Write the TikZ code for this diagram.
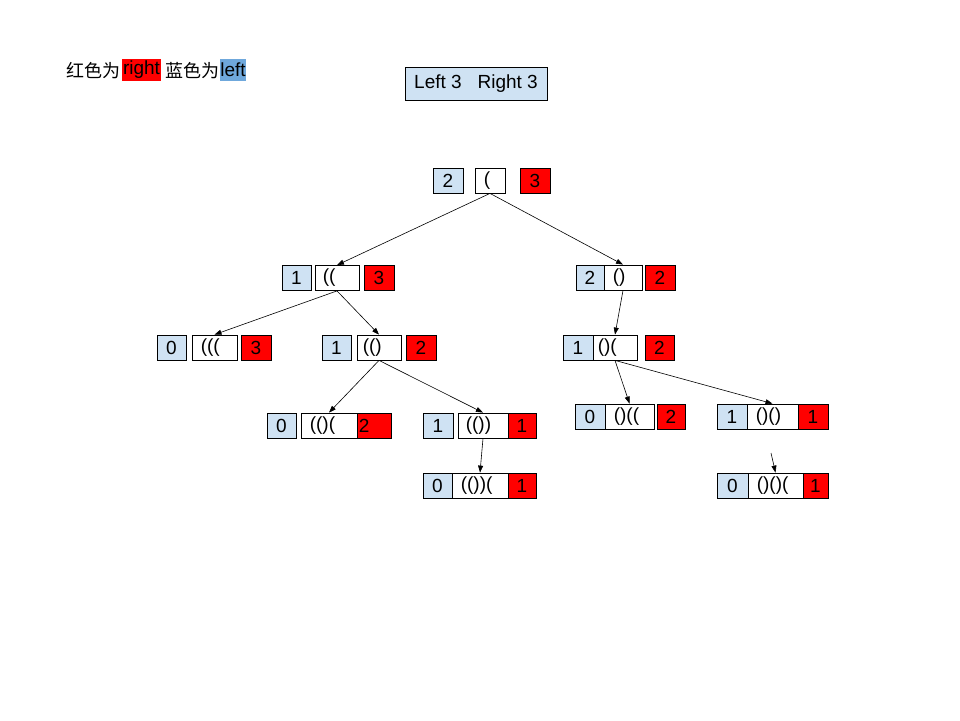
\documentclass[tikz,border=0pt]{standalone}
\usepackage{fontspec}
\setmainfont{Liberation Sans}
\newfontfamily\cjk{Noto Sans CJK SC}
\usetikzlibrary{arrows.meta}
\definecolor{lb}{HTML}{CFE2F3}
\definecolor{hb}{HTML}{6FA8DC}
\definecolor{rd}{HTML}{FF0000}
\begin{document}
\begin{tikzpicture}[x=1pt,y=-1pt,
  box/.style={draw=black, line width=0.8pt, minimum height=25pt, inner sep=0pt, font=\fontsize{19}{19}\selectfont},
  bb/.style={box, fill=lb, minimum width=#1},
  rb/.style={box, fill=rd, minimum width=#1},
  wb/.style={box, fill=white, minimum width=#1},
  tx/.style={anchor=west, inner sep=0pt, font=\fontsize{19}{19}\selectfont},
  arr/.style={-{Triangle[length=7pt,width=5pt]}, line width=0.6pt}]
\useasboundingbox (0,0) rectangle (960,720);

% header text
\node[anchor=west, inner sep=0pt, font=\fontsize{18}{18}\selectfont\cjk] (t1) at (66,71) {红色为};
\node[fill=rd, minimum width=39pt, minimum height=22pt, inner sep=0pt, font=\fontsize{19}{19}\selectfont] (t2) at (141.5,70) {right};
\node[inner sep=0pt, font=\fontsize{18}{18}\selectfont\cjk] (t3) at (192,71) {蓝色为};
\node[fill=hb, minimum width=24pt, minimum height=22pt, inner sep=0pt, font=\fontsize{19}{19}\selectfont] (t4) at (233,70) {left};

% legend
\node[draw=black, fill=lb, line width=0.8pt, minimum width=142pt, minimum height=33pt, inner sep=0pt, font=\fontsize{19}{19}\selectfont] (leg) at (476,83.5) {Left 3\ \ \ Right 3};

% root
\node[bb=30] (rb0) at (448,180.5) {2};
\node[wb=30] (rw0) at (490,180.5) {};
\node[tx] (rt0) at ([xshift=9pt]rw0.west) {(};
\node[rb=30] (rr0) at (535,180.5) {3};

% level 1 left
\node[bb=29] (ab) at (296.5,278) {1};
\node[wb=44] (aw) at (337,278) {};
\node[tx] (at) at ([xshift=8pt]aw.west) {((};
\node[rb=30] (ar) at (379,278) {3};

% level 1 right
\node[bb=28] (bb1) at (590,277.5) {2};
\node[wb=38] (bw) at (623,277.5) {};
\node[tx] (bt) at ([xshift=9pt]bw.west) {()};
\node[rb=30] (br) at (660,277.5) {2};

% level 2
\node[bb=29] (cb) at (171.5,347.5) {0};
\node[wb=45] (cw) at (214.5,347.5) {};
\node[tx] (ct) at ([xshift=9pt]cw.west) {(((};
\node[rb=30] (cr) at (256,347.5) {3};

\node[bb=29] (db) at (336.5,347.5) {1};
\node[wb=44] (dw) at (379,347.5) {};
\node[tx] (dt) at ([xshift=6pt]dw.west) {(()};
\node[rb=30] (dr) at (421,347.5) {2};

\node[bb=30] (eb) at (578,347.5) {1};
\node[wb=44] (ew) at (615,347.5) {};
\node[tx] (et) at ([xshift=5pt]ew.west) {()(};
\node[rb=29] (er) at (659.5,347.5) {2};

% level 3
\node[bb=29] (fb) at (281.5,425.5) {0};
\node[wb=56] (fw) at (329,425.5) {};
\node[tx] (ft) at ([xshift=9pt]fw.west) {(()(};
\node[rb=34] (fr) at (374,425.5) {};
\node[tx] (frt) at ([xshift=2pt]fr.west) {2};

\node[bb=30] (gb) at (438,425.5) {1};
\node[wb=50] (gw) at (483,425.5) {};
\node[tx] (gt) at ([xshift=8pt]gw.west) {(())};
\node[rb=28] (gr) at (522,425.5) {1};

\node[bb=30] (hb1) at (590,416.5) {0};
\node[wb=49] (hw) at (629.5,416.5) {};
\node[tx] (ht) at ([xshift=9pt]hw.west) {()((};
\node[rb=28] (hr) at (671,416.5) {2};

\node[bb=30] (ib) at (732,416.5) {1};
\node[wb=51] (iw) at (772.5,416.5) {};
\node[tx] (it) at ([xshift=9pt]iw.west) {()()};
\node[rb=30] (ir) at (813,416.5) {1};

% level 4
\node[bb=29] (jb) at (437.5,485.5) {0};
\node[wb=56] (jw) at (480,485.5) {};
\node[tx] (jt) at ([xshift=9pt]jw.west) {(())(};
\node[rb=28] (jr) at (522,485.5) {1};

\node[bb=31] (kb) at (732.5,485.5) {0};
\node[wb=55] (kw) at (775.5,485.5) {};
\node[tx] (kt) at ([xshift=9pt]kw.west) {()()(};
\node[rb=25] (kr) at (815.5,485.5) {1};

% connectors
\draw[arr] (rw0.south) -- (aw.north);
\draw[arr] (rw0.south) -- (bw.north);
\draw[arr] (aw.south) -- (cw.north);
\draw[arr] (aw.south) -- (dw.north);
\draw[arr] (bw.south) -- (ew.north);
\draw[arr] (dw.south) -- (fw.north);
\draw[arr] (dw.south) -- (gw.north);
\draw[arr] (ew.south) -- (hw.north);
\draw[arr] (ew.south) -- (iw.north);
\draw[arr] (gw.south) -- (jw.north);
\coordinate (fs) at (771,453);
\draw[arr] (fs) -- (kw.north);
\end{tikzpicture}
\end{document}
